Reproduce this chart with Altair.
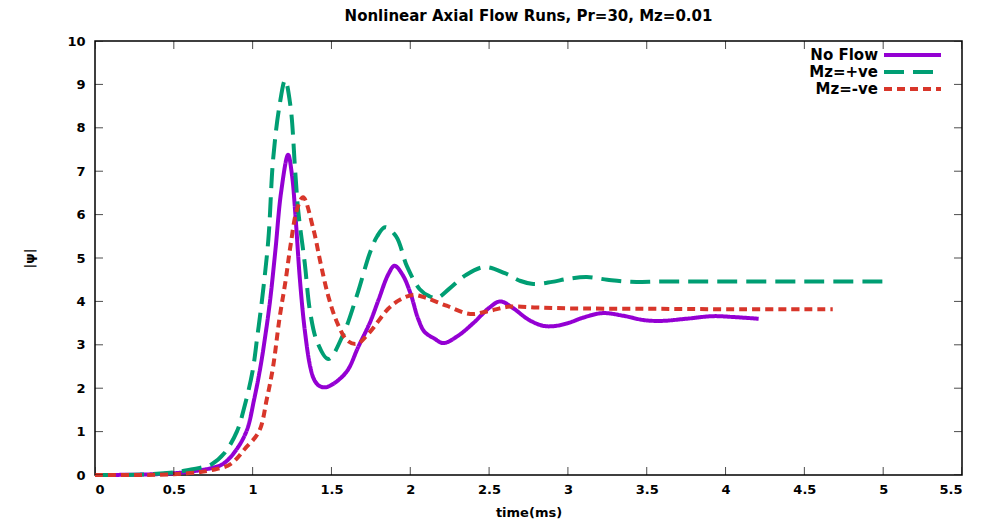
import altair as alt
import pandas as pd

# ---- data ----
t_noflow = [0, 0.3, 0.5, 0.65, 0.75, 0.81, 0.88, 0.96, 1.01, 1.05, 1.08, 1.11, 1.145, 1.18, 1.225,
            1.25, 1.27, 1.30, 1.33, 1.365, 1.39, 1.42, 1.46, 1.52, 1.60, 1.67, 1.745, 1.80, 1.86, 1.90, 1.95,
            2.0, 2.05, 2.09, 2.15, 2.21, 2.3, 2.4, 2.5, 2.57, 2.65, 2.75, 2.84, 2.91, 3.0, 3.1,
            3.22, 3.35, 3.48, 3.59, 3.75, 3.92, 4.05, 4.21]
v_noflow = [0, 0.01, 0.04, 0.1, 0.17, 0.25, 0.5, 1.0, 1.75, 2.5, 3.2, 4.0, 5.2, 6.5, 7.38,
            6.9, 6.06, 4.5, 3.36, 2.5, 2.2, 2.06, 2.02, 2.12, 2.4, 2.95, 3.52, 4.05, 4.62, 4.82, 4.62,
            4.2, 3.6, 3.3, 3.15, 3.04, 3.2, 3.5, 3.85, 4.0, 3.85, 3.58, 3.44, 3.43, 3.5, 3.63,
            3.73, 3.67, 3.57, 3.55, 3.6, 3.66, 3.64, 3.6]

t_pos = [0, 0.3, 0.5, 0.6, 0.68, 0.74, 0.82, 0.90, 0.95, 1.0, 1.03, 1.06, 1.10, 1.13, 1.17, 1.206,
         1.24, 1.27, 1.29, 1.33, 1.365, 1.41, 1.48, 1.57, 1.66, 1.745, 1.79, 1.84, 1.91, 1.98,
         2.06, 2.12, 2.17, 2.25, 2.35, 2.47, 2.6, 2.7, 2.78, 2.9, 3.0, 3.12, 3.25, 3.4, 3.6,
         4.0, 4.5, 5.0]
v_pos = [0, 0.01, 0.06, 0.12, 0.18, 0.25, 0.5, 1.0, 1.6, 2.4, 3.2, 4.05, 5.44, 7.28, 8.5, 9.1,
         8.5, 7.0, 6.06, 4.9, 3.75, 3.06, 2.67, 3.2, 4.12, 5.13, 5.5, 5.71, 5.5, 4.8,
         4.28, 4.12, 4.08, 4.3, 4.6, 4.79, 4.65, 4.47, 4.4, 4.45, 4.52, 4.56, 4.5, 4.45, 4.46,
         4.46, 4.46, 4.46]

t_neg = [0, 0.3, 0.5, 0.65, 0.75, 0.86, 0.95, 1.04, 1.09, 1.13, 1.17, 1.21, 1.24, 1.28, 1.32,
         1.385, 1.43, 1.48, 1.535, 1.60, 1.66, 1.745, 1.86, 1.94, 2.02, 2.10, 2.23, 2.38,
         2.5, 2.63, 2.8, 3.0, 3.5, 4.0, 4.68]
v_neg = [0, 0.0, 0.02, 0.06, 0.12, 0.25, 0.6, 1.0, 1.75, 2.5, 3.6, 4.5, 5.28, 6.1, 6.4,
         5.67, 4.9, 4.12, 3.52, 3.1, 3.02, 3.3, 3.83, 4.05, 4.15, 4.08, 3.9, 3.71,
         3.78, 3.88, 3.86, 3.84, 3.83, 3.82, 3.82]

series_names = ["No Flow", "Mz=+ve", "Mz=-ve"]
series_colors = ["#9400d3", "#009e73", "#d8362a"]
series_dashes = [[1, 0], [20, 9], [8, 5]]

x_ticks = [0, 0.5, 1, 1.5, 2, 2.5, 3, 3.5, 4, 4.5, 5, 5.5]
y_ticks = [0, 1, 2, 3, 4, 5, 6, 7, 8, 9, 10]

rows = []
for name, ts, vs in zip(series_names, [t_noflow, t_pos, t_neg], [v_noflow, v_pos, v_neg]):
    for t, v in zip(ts, vs):
        rows.append({"t": t, "v": v, "series": name})
df = pd.DataFrame(rows)

FONT = "DejaVu Sans"

xscale = alt.Scale(domain=[0, 5.5], nice=False)
yscale = alt.Scale(domain=[0, 10], nice=False)

lines = alt.Chart(df).mark_line(strokeWidth=4, interpolate="catmull-rom").encode(
    x=alt.X("t:Q", scale=xscale,
            axis=alt.Axis(title="time(ms)", values=x_ticks, labelExpr="'' + datum.value",
                          ticks=False, grid=False, labelPadding=8, titlePadding=10, domain=False)),
    y=alt.Y("v:Q", scale=yscale,
            axis=alt.Axis(title="|ψ|", values=y_ticks, labelExpr="'' + datum.value",
                          ticks=False, grid=False, labelPadding=10, titlePadding=30, domain=False)),
    color=alt.Color("series:N", scale=alt.Scale(domain=series_names, range=series_colors), legend=None),
    strokeDash=alt.StrokeDash("series:N", scale=alt.Scale(domain=series_names, range=series_dashes), legend=None),
    order=alt.Order("t:Q"),
)

xt = pd.DataFrame({"t": x_ticks})
yt = pd.DataFrame({"v": y_ticks})
tick_bottom = alt.Chart(xt).mark_tick(orient="vertical", size=16, thickness=1, color="black", clip=True).encode(
    x=alt.X("t:Q", scale=xscale), y=alt.datum(0))
tick_top = alt.Chart(xt).mark_tick(orient="vertical", size=16, thickness=1, color="black", clip=True).encode(
    x=alt.X("t:Q", scale=xscale), y=alt.datum(10))
tick_left = alt.Chart(yt).mark_tick(orient="horizontal", size=16, thickness=1, color="black", clip=True).encode(
    y=alt.Y("v:Q", scale=yscale), x=alt.datum(0))
tick_right = alt.Chart(yt).mark_tick(orient="horizontal", size=16, thickness=1, color="black", clip=True).encode(
    y=alt.Y("v:Q", scale=yscale), x=alt.datum(5.5))

# manual gnuplot-style legend (text left of sample)
legend_layers = []
for i, (name, col, dash) in enumerate(zip(series_names, series_colors, series_dashes)):
    yy = 14 + 17 * i
    legend_layers.append(
        alt.Chart(pd.DataFrame({"label": [name]})).mark_text(
            align="right", baseline="middle", font=FONT, fontSize=15, fontWeight="bold", color="black"
        ).encode(text="label:N", x=alt.value(783), y=alt.value(yy))
    )
    legend_layers.append(
        alt.Chart(pd.DataFrame({"label": [name]})).mark_rule(
            color=col, strokeWidth=4, strokeDash=dash
        ).encode(x=alt.value(789), x2=alt.value(846), y=alt.value(yy))
    )

chart = alt.layer(lines, tick_bottom, tick_top, tick_left, tick_right, *legend_layers).properties(
    width=867, height=434,
    title=alt.TitleParams("Nonlinear Axial Flow Runs, Pr=30, Mz=0.01", font=FONT, fontSize=15,
                          fontWeight="bold", anchor="middle", offset=11),
    padding={"left": 15, "top": 1, "right": 5, "bottom": 5},
).configure_view(stroke="black", strokeWidth=1.5).configure_axis(
    labelFont=FONT, labelFontSize=13, labelFontWeight="bold", labelColor="black",
    titleFont=FONT, titleFontSize=13, titleFontWeight="bold", titleColor="black",
)

chart.save("out.html", embed_options={"renderer": "svg", "actions": False})
